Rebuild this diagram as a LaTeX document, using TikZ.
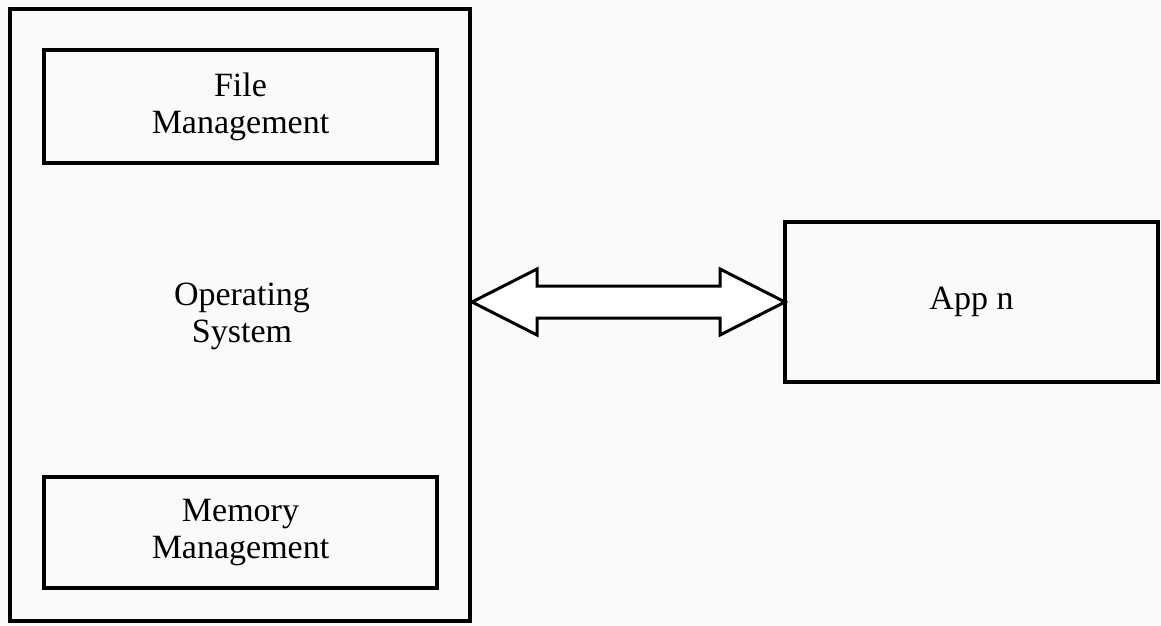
\documentclass[tikz,border=0pt]{standalone}
\usepackage{fontspec}
\setmainfont{Liberation Serif}
\usetikzlibrary{calc}
\begin{document}
\begin{tikzpicture}[x=1pt,y=1pt,
  box/.style={draw=black,line width=4pt,rectangle,outer sep=0pt,inner sep=0pt,
    align=center,font=\fontsize{34}{37}\selectfont},
  dblarrow/.style={draw=black,line width=3pt,line join=miter,fill=white}]
  % page and background
  \fill[gray!4] (0,0) rectangle (1161,-625);
  \useasboundingbox (0,0) rectangle (1161,-625);

  % operating system with its two components
  \node[box,minimum width=460pt,minimum height=612pt,
    text depth=0pt] (os) at (240,-315) {};
  \node[align=center,font=\fontsize{34}{37}\selectfont,inner sep=0pt]
    (oslabel) at (242,-316) {Operating\\System};
  \node[box,minimum width=393pt,minimum height=113pt] (fm) at (240.5,-106.5)
    {File\\Management};
  \node[box,minimum width=393pt,minimum height=111pt] (mm) at (240.5,-532.5)
    {Memory\\Management};

  % application
  \node[box,minimum width=373pt,minimum height=160pt] (app) at (971.5,-302)
    {App n};

  % block double arrow between the OS and the application
  \coordinate (L) at ($(os.east |- app.west)+(2,0)$);
  \coordinate (R) at (app.west);
  \draw[dblarrow] (L) -- ($(L)+(65,33)$) -- ($(L)+(65,16)$)
    -- ($(R)+(-65,16)$) -- ($(R)+(-65,33)$) -- (R)
    -- ($(R)+(-65,-33)$) -- ($(R)+(-65,-16)$)
    -- ($(L)+(65,-16)$) -- ($(L)+(65,-33)$) -- cycle;
\end{tikzpicture}
\end{document}
